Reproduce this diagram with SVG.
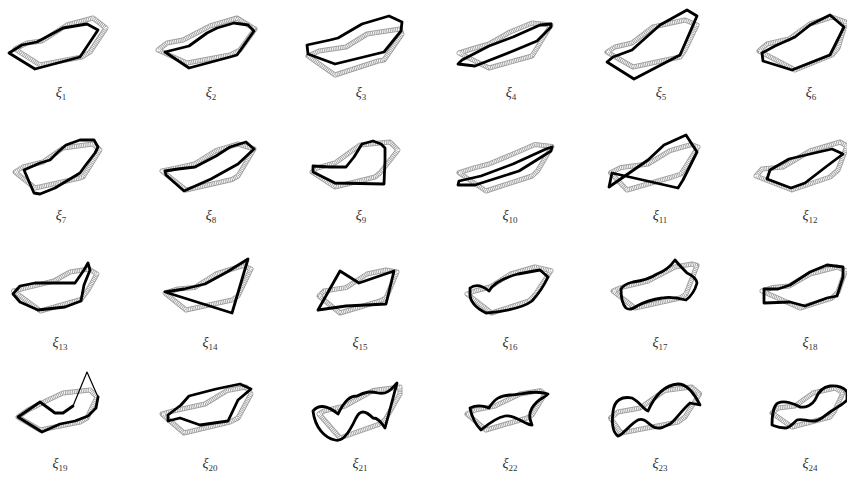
<svg xmlns="http://www.w3.org/2000/svg" xmlns:xlink="http://www.w3.org/1999/xlink" width="847" height="478" viewBox="0 0 847 478">
<style>
.gb{fill:none;stroke:#a0a0a0;stroke-width:5;stroke-linejoin:round}
.gh{fill:none;stroke:#ffffff;stroke-width:3.2;stroke-dasharray:0.9 0.9;stroke-linejoin:round}
.k{fill:none;stroke:#000;stroke-width:2.8;stroke-linejoin:round;stroke-linecap:round}
.kt{fill:none;stroke:#000;stroke-width:1.2;stroke-linejoin:round}
.lb{font-family:"Liberation Serif","Times New Roman",serif;font-size:14px;fill:#333;text-anchor:middle}
.lb tspan.x{font-style:italic}
.lb tspan.s{font-size:9px}
</style>
<defs>
<path id="g1" d="M15,49 L27,43 L42,41 L67,25 L93,18 L106,28 L90,52 L82,57 L40,65 Z"/>
<path id="g2" d="M8,50 L17,43 L33,40 L60,26 L87,18 L105,29 L90,50 L80,55 L37,63 Z"/>
<path id="g3" d="M8,56 L19,51 L46,47 L67,34 L100,29 L102,34 L84,60 L78,61 L35,75 Z"/>
<path id="g4" d="M9,53 L25,48 L39,44 L60,32 L82,23 L101,25 L87,48 L82,56 L39,68 Z"/>
<path id="g5" d="M7,52 L15,47 L32,43 L53,27 L85,20 L97,25 L85,50 L80,57 L33,67 Z"/>
<path id="g6" d="M9,51 L17,44 L39,39 L60,24 L82,17 L96,22 L88,48 L82,55 L45,70 Z"/>
<path id="g7" d="M15,52 L23,47 L43,42 L63,28 L93,24 L100,30 L83,57 L80,58 L35,68 Z"/>
<path id="g8" d="M12,51 L28,47.6 L44.5,44 L66,30.6 L88,24 L104,29 L88,56 L82,59.5 L36,70 Z"/>
<path id="g9" d="M12,52 L17,48 L35,43 L60,25 L90,22 L98,30 L80,53 L75,57 L35,67 Z"/>
<path id="g10" d="M9,52.7 L25,47.6 L39,44 L63,34 L85,24.5 L102,26.5 L87.5,51 L82,56 L36,71 Z"/>
<path id="g11" d="M10.5,52.7 L21,47.6 L48,44 L70,30.6 L91.5,24.5 L98,27 L81,54 L72,57 L27,70 Z"/>
<path id="g12" d="M6,56 L12,49 L33,47 L60,31 L90,22 L97,26 L88,50 L80,57 L42,70 Z"/>
<path id="g13" d="M13.5,51 L27,47.6 L54,41 L70,32 L89,29 L97,34 L88,50 L81,59.5 L40.5,71 Z"/>
<path id="g14" d="M15,53 L28,49 L44.5,47.6 L66,34 L93,25.5 L101,29 L88,56 L82,60 L36,70 Z"/>
<path id="g15" d="M19,56 L24,51 L46,47.6 L67,34 L86,30 L97,32 L86,58 L80,61 L40,73 Z"/>
<path id="g16" d="M17,54 L25,51 L40,47 L60.5,34 L85,27 L101,30.6 L85,55 L79,61 L41.6,73 Z"/>
<path id="g17" d="M13,51 L21,47.6 L48,41 L75,27 L92,24 L97,25.5 L86,54 L80,58 L35,68 Z"/>
<path id="g18" d="M12,51 L22.5,47.6 L39,46 L60,34 L87,27 L95.5,30.6 L88,52 L82,58 L50,68 Z"/>
<path id="g19" d="M18,57 L28,50 L48,40 L63,33 L90,30 L97,37 L87,58 L80,62 L40,70 Z"/>
<path id="g20" d="M12,54 L23,51 L55,44 L77,30.6 L96,27 L101,34 L88,58 L80,62 L34,73 Z"/>
<path id="g21" d="M19,54 L24,51 L45,46 L73,30.6 L100,27 L100,34 L85,60 L78,64.6 L40,78 Z"/>
<path id="g22" d="M17,54 L25,50 L45,46 L70,34 L90,30.6 L95,34 L82,55 L77,58 L36,70 Z"/>
<path id="g23" d="M10.5,58 L18,52 L40,48 L64.5,30.6 L91.5,27 L99.6,34 L85,57 L78,62 L21,73 Z"/>
<path id="g24" d="M22,53 L28,48 L45,46 L63,33 L85,28 L93,33 L84,52 L80,57 L42,67 Z"/>
</defs>

<g id="xi1">
<g transform="translate(0,0)"><use xlink:href="#g1" class="gb"/><use xlink:href="#g1" class="gh"/></g>
<path class="k" d="M9,53 L22,45 L37,42 L63,28 L87,24 L98,30 L80,57 L35,69 Z"/>
<text class="lb" x="61" y="97"><tspan class="x">ξ</tspan><tspan class="s" dy="3">1</tspan></text>
</g>
<g id="xi2">
<g transform="translate(150,0)"><use xlink:href="#g2" class="gb"/><use xlink:href="#g2" class="gh"/></g>
<path class="k" d="M165,52 L189,46 L207,33 L217,28 L234,23 L248,25 L254,31 L237,55 L230,57 L189,68 Z"/>
<text class="lb" x="211" y="97"><tspan class="x">ξ</tspan><tspan class="s" dy="3">2</tspan></text>
</g>
<g id="xi3">
<g transform="translate(300,0)"><use xlink:href="#g3" class="gb"/><use xlink:href="#g3" class="gh"/></g>
<path class="k" d="M307,45 L330,40 L338,38 L362,24 L389,16 L402,22 L401,31 L384,52 L335,64 L308,54 Z"/>
<text class="lb" x="361" y="97"><tspan class="x">ξ</tspan><tspan class="s" dy="3">3</tspan></text>
</g>
<g id="xi4">
<g transform="translate(450,0)"><use xlink:href="#g4" class="gb"/><use xlink:href="#g4" class="gh"/></g>
<path class="k" d="M458,64 L462,60 L489,46 L513,37 L540,25 L551,24 L551,27 L537,41 L513,51 L475,66 Z"/>
<text class="lb" x="511" y="97"><tspan class="x">ξ</tspan><tspan class="s" dy="3">4</tspan></text>
</g>
<g id="xi5">
<g transform="translate(600,0)"><use xlink:href="#g5" class="gb"/><use xlink:href="#g5" class="gh"/></g>
<path class="k" d="M607,62 L613,57 L632,50 L660,25 L687,10 L697,16 L680,55 L634,79 Z"/>
<text class="lb" x="661" y="97"><tspan class="x">ξ</tspan><tspan class="s" dy="3">5</tspan></text>
</g>
<g id="xi6">
<g transform="translate(750,0)"><use xlink:href="#g6" class="gb"/><use xlink:href="#g6" class="gh"/></g>
<path class="k" d="M762,53 L775,46 L795,37 L810,25 L830,15 L844,27 L830,55 L792,70 L763,61 Z"/>
<text class="lb" x="811" y="97"><tspan class="x">ξ</tspan><tspan class="s" dy="3">6</tspan></text>
</g>

<g id="xi7">
<g transform="translate(0,120)"><use xlink:href="#g7" class="gb"/><use xlink:href="#g7" class="gh"/></g>
<path class="k" d="M24,170 L34,193 L40,194 L55,188 L80,173 L85,166 L95,153 L98,147 L94,140 L80,140 L66,145 L58,152 L50,160 L40,163 Z"/>
<text class="lb" x="61" y="220"><tspan class="x">ξ</tspan><tspan class="s" dy="3">7</tspan></text>
</g>
<g id="xi8">
<g transform="translate(150,120)"><use xlink:href="#g8" class="gb"/><use xlink:href="#g8" class="gh"/></g>
<path class="k" d="M165,171 L166,175 L184,191 L211,179 L238,164 L254,149 L246,142 L230,147 L216,156 L195,167 L178,169 Z"/>
<text class="lb" x="211" y="220"><tspan class="x">ξ</tspan><tspan class="s" dy="3">8</tspan></text>
</g>
<g id="xi9">
<g transform="translate(300,120)"><use xlink:href="#g9" class="gb"/><use xlink:href="#g9" class="gh"/></g>
<path class="k" d="M313,166 L313,172 L335,183 L384,184 L385,160 L385,148 L381,144 L373,141 L362,144 L354,157 L346,167 L330,167 Z"/>
<text class="lb" x="361" y="220"><tspan class="x">ξ</tspan><tspan class="s" dy="3">9</tspan></text>
</g>
<g id="xi10">
<g transform="translate(450,120)"><use xlink:href="#g10" class="gb"/><use xlink:href="#g10" class="gh"/></g>
<path class="k" d="M458,185 L459,181 L481,176 L513,164 L546,149 L552,147 L551,151 L535,161 L519,171 L475,185 Z"/>
<text class="lb" x="510" y="220"><tspan class="x">ξ</tspan><tspan class="s" dy="3">10</tspan></text>
</g>
<g id="xi11">
<g transform="translate(600,120)"><use xlink:href="#g11" class="gb"/><use xlink:href="#g11" class="gh"/></g>
<path class="k" d="M612,173 L678,188 L683,180 L697,152 L686,135 L664,145 L648,160 L609,187 Z"/>
<text class="lb" x="660" y="220"><tspan class="x">ξ</tspan><tspan class="s" dy="3">11</tspan></text>
</g>
<g id="xi12">
<g transform="translate(750,120)"><use xlink:href="#g12" class="gb"/><use xlink:href="#g12" class="gh"/></g>
<path class="k" d="M767,179 L770,170 L789,159 L810,154 L832,149 L843,154 L827,166 L805,183 L791,188 Z"/>
<text class="lb" x="810" y="220"><tspan class="x">ξ</tspan><tspan class="s" dy="3">12</tspan></text>
</g>

<g id="xi13">
<g transform="translate(0,240)"><use xlink:href="#g13" class="gb"/><use xlink:href="#g13" class="gh"/></g>
<path class="k" d="M13,294 L20,286 L35,283 L75,283 L84,270 L88,263 L90,270 L84,285 L81,301 L65,307 L38,310 L20,302 Z"/>
<text class="lb" x="60" y="347"><tspan class="x">ξ</tspan><tspan class="s" dy="3">13</tspan></text>
</g>
<g id="xi14">
<g transform="translate(150,240)"><use xlink:href="#g14" class="gb"/><use xlink:href="#g14" class="gh"/></g>
<path class="k" d="M165,292 L184,289 L205,284 L227,272 L248,259 L232,313 Z"/>
<text class="lb" x="210" y="347"><tspan class="x">ξ</tspan><tspan class="s" dy="3">14</tspan></text>
</g>
<g id="xi15">
<g transform="translate(300,240)"><use xlink:href="#g15" class="gb"/><use xlink:href="#g15" class="gh"/></g>
<path class="k" d="M318,310 L340,271 L359,283 L394,271 L386,304 L346,306 Z"/>
<text class="lb" x="360" y="347"><tspan class="x">ξ</tspan><tspan class="s" dy="3">15</tspan></text>
</g>
<g id="xi16">
<g transform="translate(450,240)"><use xlink:href="#g16" class="gb"/><use xlink:href="#g16" class="gh"/></g>
<path class="k" d="M470,288 Q478,282 489,291 Q495,280 518,274 L540,270 L548,277 Q542,290 532,301 Q520,310 486,313 Q470,305 470,294 Z"/>
<text class="lb" x="510" y="347"><tspan class="x">ξ</tspan><tspan class="s" dy="3">16</tspan></text>
</g>
<g id="xi17">
<g transform="translate(600,240)"><use xlink:href="#g17" class="gb"/><use xlink:href="#g17" class="gh"/></g>
<path class="k" d="M621,289 Q624,284 633,282 Q648,280 657,274 Q668,270 675,260 Q680,266 687,273 Q696,277 697,283 Q694,294 686,300 Q672,296 662,298 Q648,300 637,306 Q630,311 626,308 Q621,303 621,289 Z"/>
<text class="lb" x="660" y="347"><tspan class="x">ξ</tspan><tspan class="s" dy="3">17</tspan></text>
</g>
<g id="xi18">
<g transform="translate(750,240)"><use xlink:href="#g18" class="gb"/><use xlink:href="#g18" class="gh"/></g>
<path class="k" d="M764,289 L778,289 L790,285 L810,272 L827,265 L843,267 L843,277 L837,296 L827,298 L805,306 L790,302 L764,303 Z"/>
<text class="lb" x="810" y="347"><tspan class="x">ξ</tspan><tspan class="s" dy="3">18</tspan></text>
</g>

<g id="xi19">
<g transform="translate(0,360)"><use xlink:href="#g19" class="gb"/><use xlink:href="#g19" class="gh"/></g>
<path class="k" d="M73,406 L63,413 L55,413 L40,402 L18,417 L42,432 L60,424 L75,421 L88,416 L96,408 L98,397"/>
<path class="kt" d="M73,406 L87,372 L98,397"/>
<text class="lb" x="60" y="468"><tspan class="x">ξ</tspan><tspan class="s" dy="3">19</tspan></text>
</g>
<g id="xi20">
<g transform="translate(150,360)"><use xlink:href="#g20" class="gb"/><use xlink:href="#g20" class="gh"/></g>
<path class="k" d="M168,421 L180,418 L200,425 L228,421 L238,400 L251,389 L240,384 L216,389 L189,396 L181,405 L168,415 Z"/>
<text class="lb" x="210" y="468"><tspan class="x">ξ</tspan><tspan class="s" dy="3">20</tspan></text>
</g>
<g id="xi21">
<g transform="translate(300,360)"><use xlink:href="#g21" class="gb"/><use xlink:href="#g21" class="gh"/></g>
<path class="k" d="M313,411 C318,405 326,404 338,414 C345,400 350,396 357,396 C365,392 370,391 378,393 C388,395 392,388 397,383 L385,428 C380,420 377,418 373,418 C365,410 360,410 356,418 C348,435 342,442 335,440 C325,438 315,428 313,411 Z"/>
<text class="lb" x="360" y="468"><tspan class="x">ξ</tspan><tspan class="s" dy="3">21</tspan></text>
</g>
<g id="xi22">
<g transform="translate(450,360)"><use xlink:href="#g22" class="gb"/><use xlink:href="#g22" class="gh"/></g>
<path class="k" d="M470,408 C478,404 484,406 489,408 C495,398 500,396 510,395 C525,394 535,390 548,394 C545,398 538,398 532,408 C528,415 530,420 532,425 C525,425 515,414 505,416 C495,418 487,425 481,430 C476,425 472,418 470,408 Z"/>
<text class="lb" x="510" y="468"><tspan class="x">ξ</tspan><tspan class="s" dy="3">22</tspan></text>
</g>
<g id="xi23">
<g transform="translate(600,360)"><use xlink:href="#g23" class="gb"/><use xlink:href="#g23" class="gh"/></g>
<path class="k" d="M613,412 C614,400 622,396 632,398 C640,402 644,410 648,411 C655,395 665,385 678,384 C688,384 695,395 700,405 L690,403 C680,412 676,420 670,424 C662,428 658,430 652,426 C645,420 642,418 638,420 C630,424 622,436 618,436 C612,432 612,420 613,412 Z"/>
<text class="lb" x="660" y="468"><tspan class="x">ξ</tspan><tspan class="s" dy="3">23</tspan></text>
</g>
<g id="xi24">
<g transform="translate(750,360)"><use xlink:href="#g24" class="gb"/><use xlink:href="#g24" class="gh"/></g>
<path class="k" d="M772,425 C772,415 774,405 778,403 C785,400 795,404 800,407 C806,408 812,405 815,400 C818,392 822,387 830,386 C838,385 845,388 847,392 L847,400 C842,405 836,408 833,410 C826,414 822,420 815,421 C808,422 802,418 797,420 C792,424 790,428 785,428 C778,428 775,426 772,425 Z"/>
<text class="lb" x="810" y="468"><tspan class="x">ξ</tspan><tspan class="s" dy="3">24</tspan></text>
</g>
</svg>
